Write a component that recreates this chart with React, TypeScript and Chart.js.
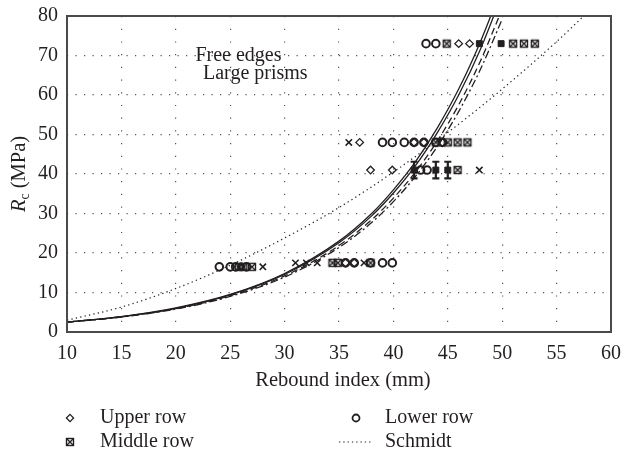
import { useEffect, useRef } from "react";
import { Chart, registerables } from "chart.js";

Chart.register(...registerables);

const FONT = "'Liberation Serif', 'Times New Roman', serif";
const INK = "#231f20";

// Axis ranges
const X_MIN = 10;
const X_MAX = 60;
const X_STEP = 5;
const Y_MIN = 0;
const Y_MAX = 80;
const Y_STEP = 10;

// Fitted curves (rebound index -> Rc)
const fitX = [10, 15, 20, 25, 30, 35, 38, 40, 42, 44, 46, 48, 50];
const fitSolidA = [2.5, 3.9, 6.1, 9.5, 14.8, 23.0, 30.0, 36.0, 43.0, 51.5, 61.5, 73.5, 87.5];
const fitSolidB = [2.5, 3.9, 6.0, 9.4, 14.6, 22.6, 29.4, 35.2, 42.0, 50.3, 60.0, 71.6, 85.5];
const fitDashed = [2.5, 3.8, 5.9, 9.2, 14.2, 21.9, 28.4, 33.9, 40.4, 48.2, 57.5, 68.6, 81.8];
const fitDashDot = [2.5, 3.8, 5.8, 9.0, 13.9, 21.4, 27.7, 33.0, 39.3, 46.8, 55.8, 66.5, 79.2];

// Schmidt hammer calibration curve
const schmidtX = [10, 15, 20, 25, 30, 35, 40, 45, 50, 55, 57.5, 60];
const schmidtR = [3.0, 6.3, 11.0, 16.9, 23.8, 31.5, 40.5, 50.5, 61.5, 73.5, 80.0, 86.5];

// Measurements
const upperRowX = [26.0, 35.6, 36.4, 36.9, 41.9, 42.8, 44.5, 37.9, 39.9, 46.0, 47.0];
const upperRowY = [16.5, 17.5, 17.5, 48.0, 48.0, 48.0, 48.0, 41.0, 41.0, 73.0, 73.0];

const lowerRowX = [24.0, 25.0, 25.5, 26.5, 35.6, 36.4, 37.9, 39.0, 39.9, 39.0, 39.9, 41.0, 41.9, 42.8, 43.9, 44.5, 42.5, 43.1, 43.0, 43.9];
const lowerRowY = [16.5, 16.5, 16.5, 16.5, 17.5, 17.5, 17.5, 17.5, 17.5, 48.0, 48.0, 48.0, 48.0, 48.0, 48.0, 48.0, 41.0, 41.0, 73.0, 73.0];

const middleRowX = [25.8, 26.2, 27.0, 34.4, 34.9, 37.9, 43.9, 45.0, 45.9, 46.8, 45.9, 44.9, 51.0, 52.0, 53.0];
const middleRowY = [16.5, 16.5, 16.5, 17.5, 17.5, 17.5, 48.0, 48.0, 48.0, 48.0, 41.0, 73.0, 73.0, 73.0, 73.0];

const crossX = [28.0, 31.0, 32.0, 33.0, 37.3, 35.9, 47.9];
const crossY = [16.5, 17.5, 17.5, 17.5, 17.5, 48.0, 41.0];

const meanX = [41.9, 43.9, 45.0, 47.9, 49.9];
const meanY = [41.0, 41.0, 41.0, 73.0, 73.0];
const meanErr = [2.1, 2.1, 2.1, 0, 0];

// Text placed inside the plot, in data units
const noteLines = ["Free edges", "Large prisms"];
const noteX = [21.8, 22.5];
const noteY = [70.0, 65.4];

const legendLabels = ["Upper row", "Lower row", "Middle row", "Schmidt"];

const pts = (xs: number[], ys: number[]) => xs.map((x, i) => ({ x, y: ys[i] }));

function makeBoxCross(size: number, lw: number): HTMLCanvasElement {
  const c = document.createElement("canvas");
  const s = Math.ceil(size + lw * 2 + 2);
  c.width = s;
  c.height = s;
  const g = c.getContext("2d")!;
  const o = (s - size) / 2;
  g.strokeStyle = INK;
  g.lineWidth = lw;
  g.strokeRect(o, o, size, size);
  g.beginPath();
  g.moveTo(o, o);
  g.lineTo(o + size, o + size);
  g.moveTo(o + size, o);
  g.lineTo(o, o + size);
  g.stroke();
  return c;
}

function drawDiamond(ctx: CanvasRenderingContext2D, x: number, y: number, r: number) {
  ctx.beginPath();
  ctx.moveTo(x, y - r);
  ctx.lineTo(x + r, y);
  ctx.lineTo(x, y + r);
  ctx.lineTo(x - r, y);
  ctx.closePath();
  ctx.stroke();
}

export default function App() {
  const canvasRef = useRef<HTMLCanvasElement | null>(null);

  useEffect(() => {
    document.body.style.margin = "0";
    const canvas = canvasRef.current;
    if (!canvas) return;
    const boxCross = makeBoxCross(7, 1.4);

    const decor = {
      id: "decor",
      afterDatasetsDraw(chart: any) {
        const { ctx, scales } = chart;
        const xs = scales.x;
        const ys = scales.y;
        ctx.save();
        ctx.strokeStyle = INK;
        ctx.lineWidth = 2.2;
        meanX.forEach((mx, i) => {
          if (!meanErr[i]) return;
          const px = xs.getPixelForValue(mx);
          const top = ys.getPixelForValue(meanY[i] + meanErr[i]);
          const bot = ys.getPixelForValue(meanY[i] - meanErr[i]);
          ctx.beginPath();
          ctx.moveTo(px, top);
          ctx.lineTo(px, bot);
          ctx.moveTo(px - 3.5, top);
          ctx.lineTo(px + 3.5, top);
          ctx.moveTo(px - 3.5, bot);
          ctx.lineTo(px + 3.5, bot);
          ctx.stroke();
        });
        ctx.restore();
      },
      afterDraw(chart: any) {
        const { ctx, chartArea: a, scales } = chart;
        ctx.save();
        // plot frame
        ctx.strokeStyle = "#4a4a4a";
        ctx.lineWidth = 2;
        ctx.strokeRect(a.left, a.top, a.right - a.left, a.bottom - a.top);

        ctx.fillStyle = INK;
        // x title
        ctx.font = `20.5px ${FONT}`;
        ctx.textAlign = "center";
        ctx.textBaseline = "middle";
        ctx.fillText("Rebound index (mm)", (a.left + a.right) / 2 + 4, a.bottom + 49);

        // y title: italic R with subscript c
        ctx.save();
        ctx.translate(20, (a.top + a.bottom) / 2);
        ctx.rotate(-Math.PI / 2);
        ctx.textAlign = "left";
        ctx.textBaseline = "middle";
        const fR = `italic 20.5px ${FONT}`;
        const fc = `14px ${FONT}`;
        const fm = `20.5px ${FONT}`;
        ctx.font = fR;
        const wR = ctx.measureText("R").width;
        ctx.font = fc;
        const wc = ctx.measureText("c").width;
        ctx.font = fm;
        const wm = ctx.measureText(" (MPa)").width;
        let sx = -(wR + wc + wm) / 2;
        ctx.font = fR;
        ctx.fillText("R", sx, 0);
        sx += wR;
        ctx.font = fc;
        ctx.fillText("c", sx, 5);
        sx += wc;
        ctx.font = fm;
        ctx.fillText(" (MPa)", sx, 0);
        ctx.restore();

        // notes inside the plot
        ctx.font = `20px ${FONT}`;
        ctx.textAlign = "left";
        ctx.textBaseline = "middle";
        noteLines.forEach((t, i) => {
          ctx.fillText(t, scales.x.getPixelForValue(noteX[i]), scales.y.getPixelForValue(noteY[i]));
        });

        // legend
        const row1 = 418;
        const row2 = 442;
        const c1 = 70;
        const c2 = 356;
        ctx.strokeStyle = INK;
        ctx.lineWidth = 1.3;
        drawDiamond(ctx, c1, row1, 3.6);
        ctx.lineWidth = 1.8;
        ctx.beginPath();
        ctx.arc(c2, row1, 3.5, 0, Math.PI * 2);
        ctx.stroke();
        ctx.drawImage(boxCross, c1 - boxCross.width / 2, row2 - boxCross.height / 2);
        ctx.lineWidth = 1.2;
        ctx.setLineDash([1.3, 3]);
        ctx.beginPath();
        ctx.moveTo(c2 - 17, row2);
        ctx.lineTo(c2 + 16, row2);
        ctx.stroke();
        ctx.setLineDash([]);
        ctx.font = `20px ${FONT}`;
        ctx.fillStyle = INK;
        ctx.fillText(legendLabels[0], 100, row1);
        ctx.fillText(legendLabels[1], 385, row1);
        ctx.fillText(legendLabels[2], 100, row2);
        ctx.fillText(legendLabels[3], 385, row2);
        ctx.restore();
      },
    };

    const curve = (data: number[], dash: number[], xs = fitX) => ({
      type: "line" as const,
      data: pts(xs, data),
      borderColor: INK,
      borderWidth: 1.3,
      borderDash: dash,
      pointRadius: 0,
      fill: false,
      tension: 0.4,
      cubicInterpolationMode: "monotone" as const,
      showLine: true,
      order: 5,
    });

    const chart = new Chart(canvas, {
      type: "scatter",
      data: {
        datasets: [
          curve(fitSolidA, []),
          curve(fitSolidB, []),
          curve(fitDashed, [7, 4]),
          curve(fitDashDot, [8, 3, 2, 3]),
          { ...curve(schmidtR, [1.3, 3.2], schmidtX), borderWidth: 1.2 },
          {
            label: "Lower row",
            data: pts(lowerRowX, lowerRowY),
            pointStyle: "circle",
            pointRadius: 3.8,
            borderWidth: 2,
            borderColor: INK,
            backgroundColor: "rgba(255,255,255,0)",
            order: 4,
          },
          {
            label: "Upper row",
            data: pts(upperRowX, upperRowY),
            pointStyle: "rectRot",
            pointRadius: 3.8,
            borderWidth: 1.3,
            borderColor: INK,
            backgroundColor: "rgba(255,255,255,0)",
            order: 3,
          },
          {
            label: "Middle row",
            data: pts(middleRowX, middleRowY),
            pointStyle: boxCross as any,
            pointRadius: 4,
            borderColor: INK,
            backgroundColor: "rgba(255,255,255,0)",
            order: 2,
          },
          {
            label: "Other",
            data: pts(crossX, crossY),
            pointStyle: "crossRot",
            pointRadius: 4.5,
            borderWidth: 1.6,
            borderColor: INK,
            order: 1,
          },
          {
            label: "Mean",
            data: pts(meanX, meanY),
            pointStyle: "rect",
            pointRadius: 4.2,
            borderWidth: 1,
            borderColor: INK,
            backgroundColor: INK,
            order: 0,
          },
        ] as any,
      },
      options: {
        animation: false,
        responsive: false,
        devicePixelRatio: 1,
        layout: { padding: { top: 16, right: 10, left: 0, bottom: 0 } },
        plugins: {
          legend: { display: false },
          tooltip: { enabled: false },
        },
        scales: {
          x: {
            type: "linear",
            min: X_MIN,
            max: X_MAX,
            afterFit: (s: any) => {
              s.height = 126;
              s.paddingLeft = 0;
              s.paddingRight = 0;
            },
            ticks: {
              stepSize: X_STEP,
              padding: 10,
              color: INK,
              font: { family: FONT, size: 20 },
              maxRotation: 0,
            },
            grid: {
              color: "#555",
              lineWidth: 1.2,
              drawTicks: false,
            },
            border: { display: false, dash: [1.2, 11.5] },
          },
          y: {
            type: "linear",
            min: Y_MIN,
            max: Y_MAX,
            afterFit: (s: any) => {
              s.width = 67;
              s.paddingTop = 0;
              s.paddingBottom = 0;
            },
            ticks: {
              stepSize: Y_STEP,
              padding: 9,
              color: INK,
              font: { family: FONT, size: 20 },
            },
            grid: {
              color: "#555",
              lineWidth: 1.2,
              drawTicks: false,
            },
            border: { display: false, dash: [1.2, 7.3] },
          },
        },
      } as any,
      plugins: [decor],
    });

    return () => chart.destroy();
  }, []);

  return (
    <div style={{ position: "fixed", left: 0, top: 0, width: 621, height: 458, background: "#fff" }}>
      <canvas ref={canvasRef} width={621} height={458} style={{ width: 621, height: 458 }} />
    </div>
  );
}
